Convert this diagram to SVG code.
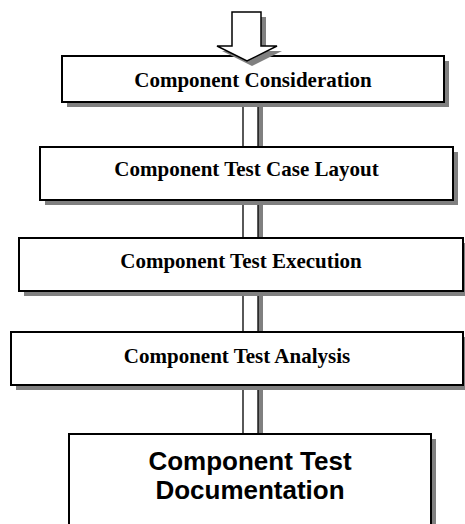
<svg xmlns="http://www.w3.org/2000/svg" width="465" height="524" viewBox="0 0 465 524">
<style>
.box{fill:#fff;stroke:#000;stroke-width:2}
.sh{fill:#808080}
.t{font-family:"Liberation Serif","Times New Roman",serif;font-weight:bold;font-size:21px;text-anchor:middle;fill:#000}
.t2{font-family:"Liberation Sans",Arial,sans-serif;font-weight:bold;font-size:26px;text-anchor:middle;fill:#000}
.shaft{fill:#fff;stroke:#000;stroke-width:1.3}
</style>
<rect width="465" height="524" fill="#fff"/>
<g id="connectors">
<rect class="sh" x="248" y="105" width="15" height="330"/>
<rect class="shaft" x="243" y="100" width="15" height="335"/>
</g>
<g id="n1">
<rect class="sh" x="67" y="61" width="382" height="46"/>
<rect class="box" x="62" y="56" width="382" height="46"/>
<text class="t" x="253" y="87">Component Consideration</text>
</g>
<g id="n2">
<rect class="sh" x="45" y="152" width="413" height="53"/>
<rect class="box" x="40" y="147" width="413" height="53"/>
<text class="t" x="246.5" y="176">Component Test Case Layout</text>
</g>
<g id="n3">
<rect class="sh" x="24" y="243" width="444" height="53"/>
<rect class="box" x="19" y="238" width="444" height="53"/>
<text class="t" x="241" y="268">Component Test Execution</text>
</g>
<g id="n4">
<rect class="sh" x="16" y="337" width="452" height="53"/>
<rect class="box" x="11" y="332" width="452" height="53"/>
<text class="t" x="237" y="363">Component Test Analysis</text>
</g>
<g id="n5">
<rect class="sh" x="74" y="439" width="362" height="100"/>
<rect class="box" x="69" y="434" width="362" height="100"/>
<text class="t2" x="250" y="470">Component Test</text>
<text class="t2" x="250" y="499">Documentation</text>
</g>
<g id="start-arrow">
<polygon class="sh" points="237,17 266,17 266,51 282,51 252,66 222,51 237,51"/>
<polygon points="232,12 261,12 261,46 277,46 247,61 217,46 232,46" fill="#fff" stroke="#000" stroke-width="1.5"/>
</g>
</svg>
